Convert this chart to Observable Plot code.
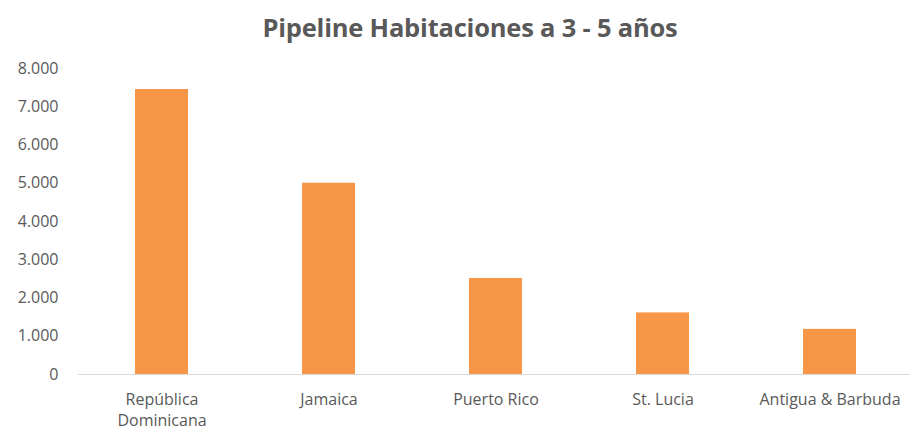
<!DOCTYPE html>
<html>
<head>
<meta charset="utf-8">
<script src="https://cdn.jsdelivr.net/npm/d3@7"></script>
<script src="https://cdn.jsdelivr.net/npm/@observablehq/plot@0.6"></script>
<style>
  html, body { margin: 0; padding: 0; background: #fff; overflow: hidden; }
  #wrap { position: relative; width: 910px; height: 430px; overflow: hidden; }
  #title { position: absolute; left: 0; top: 10px; width: 940px; text-align: center;
    font-family: "Open Sans", sans-serif; font-weight: bold; font-size: 25.5px; color: #595959; letter-spacing: -0.2px; }
</style>
</head>
<body>
<div id="wrap">
  <div id="title">Pipeline Habitaciones a 3 - 5 años</div>
  <div id="chart"></div>
</div>
<script>
const categories = ["República Dominicana", "Jamaica", "Puerto Rico", "St. Lucia", "Antigua & Barbuda"];
const tickLabels = ["República\nDominicana", "Jamaica", "Puerto Rico", "St. Lucia", "Antigua & Barbuda"];
const rooms = [7450, 5000, 2510, 1610, 1180];
const yTicks = [0, 1000, 2000, 3000, 4000, 5000, 6000, 7000, 8000];

const data = categories.map((c, i) => ({category: c, value: rooms[i]}));
const fmt = d3.formatLocale({decimal: ",", thousands: ".", grouping: [3], currency: ["", ""]}).format(",");
const labelOf = new Map(categories.map((c, i) => [c, tickLabels[i]]));

const chart = Plot.plot({
  width: 910,
  height: 430,
  marginTop: 68,
  marginBottom: 56,
  marginLeft: 78,
  marginRight: -4,
  style: {fontFamily: "'Open Sans', sans-serif", fontSize: "16px", color: "#595959", background: "#fff"},
  x: {domain: categories, paddingInner: 0.68, paddingOuter: 0.34, align: 0.5},
  y: {domain: [0, 8000]},
  marks: [
    Plot.barY(data, {x: "category", y: "value", fill: "#F79646"}),
    Plot.ruleY([0], {stroke: "#D9D9D9", strokeWidth: 1.2}),
    Plot.axisY({ticks: yTicks, tickFormat: fmt, tickSize: 0, tickPadding: 20, label: null, fill: "#595959"}),
    Plot.axisX({tickSize: 0, tickPadding: 16, tickFormat: d => labelOf.get(d), label: null, lineHeight: 1.3, fill: "#595959"})
  ]
});
document.getElementById("chart").appendChild(chart);
</script>
</body>
</html>
